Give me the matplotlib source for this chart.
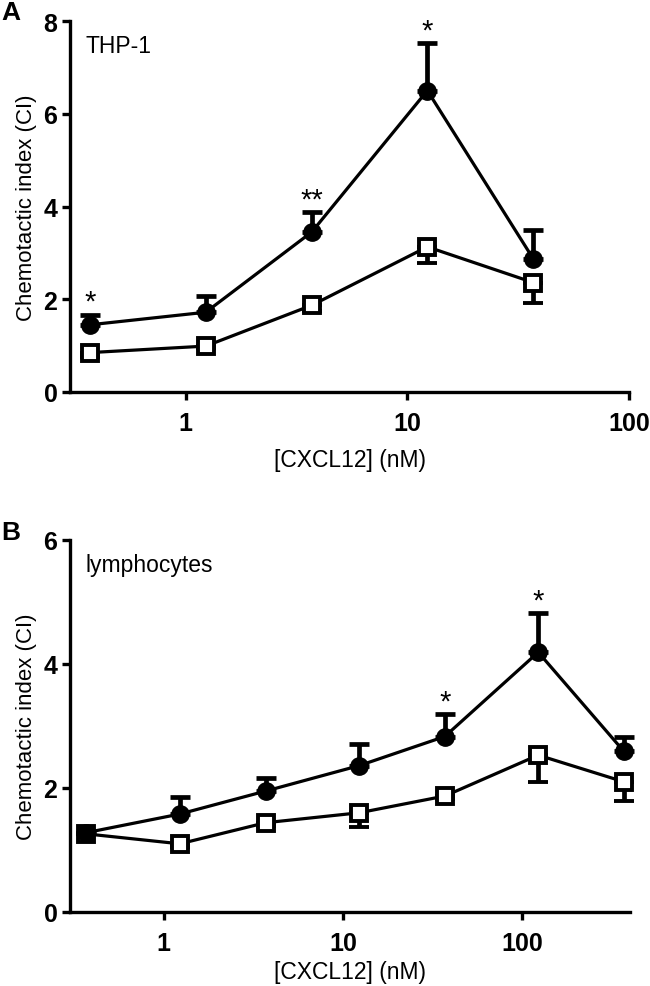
import matplotlib
matplotlib.use("Agg")
import matplotlib.pyplot as plt
import numpy as np

# ---------------- data ----------------
conc_a = [0.37, 1.23, 3.7, 12.3, 37]
thp_filled = [1.45, 1.72, 3.45, 6.50, 2.87]
thp_filled_err = [0.22, 0.35, 0.43, 1.03, 0.63]
thp_open = [0.85, 0.99, 1.87, 3.13, 2.36]
thp_open_err = [0.10, 0.05, 0.12, 0.35, 0.45]
thp_stars = ["*", "", "**", "*", ""]

conc_b = [0.37, 1.23, 3.7, 12.3, 37, 123, 370]
lym_filled = [1.28, 1.58, 1.95, 2.36, 2.83, 4.19, 2.59]
lym_filled_err = [0.0, 0.27, 0.21, 0.35, 0.36, 0.63, 0.24]
lym_open = [1.26, 1.10, 1.44, 1.60, 1.87, 2.53, 2.10]
lym_open_err = [0.0, 0.05, 0.05, 0.23, 0.05, 0.43, 0.31]
lym_stars = ["", "", "", "", "*", "*", ""]

xlabel = "[CXCL12] (nM)"
ylabel = "Chemotactic index (CI)"

# ---------------- style ----------------
REG = ["Liberation Sans", "DejaVu Sans"]
NARROW = ["Liberation Sans Narrow", "Liberation Sans", "DejaVu Sans"]
LW = 2.3

fig = plt.figure(figsize=(6.5, 9.87), dpi=100)
axA = fig.add_axes([70/650, 1-393/987, (629-70)/650, (393-22)/987])
axB = fig.add_axes([70/650, 1-913/987, (630-70)/650, (913-541)/987])


def draw(ax, x, yf, ef, yo, eo, stars, xlim, ylim, yticks, name, xpad):
    zeros_f = np.zeros(len(yf))
    zeros_o = np.zeros(len(yo))
    ax.errorbar(x, yo, yerr=[eo, zeros_o], color="black", lw=LW,
                marker="s", ms=11.5, mfc="white", mec="black", mew=2.8,
                capsize=7.5, capthick=3.4, elinewidth=3.4, zorder=3)
    ax.errorbar(x, yf, yerr=[zeros_f, ef], color="black", lw=LW,
                marker="o", ms=12.5, mfc="black", mec="black",
                capsize=7.5, capthick=3.4, elinewidth=3.4, zorder=4)
    for xi, yi, ei, s in zip(x, yf, ef, stars):
        if s:
            ax.annotate(s, (xi, yi + ei), xytext=(0, -1), textcoords="offset points",
                        ha="center", va="bottom", fontsize=21, family=REG)
    ax.set_xscale("log")
    ax.set_xlim(*xlim)
    ax.set_ylim(*ylim)
    ax.set_yticks(yticks)
    ax.xaxis.set_major_locator(matplotlib.ticker.FixedLocator([1, 10, 100]))
    ax.xaxis.set_minor_locator(matplotlib.ticker.NullLocator())
    ax.xaxis.set_major_formatter(matplotlib.ticker.FixedFormatter(["1", "10", "100"]))
    for sp in ["top", "right"]:
        ax.spines[sp].set_visible(False)
    for sp in ["left", "bottom"]:
        ax.spines[sp].set_linewidth(2.4)
    ax.tick_params(axis="both", which="major", direction="out", length=6,
                   width=2.4, labelsize=18, pad=3)
    ax.tick_params(axis="x", pad=8)
    for lab in ax.get_xticklabels() + ax.get_yticklabels():
        lab.set_fontweight("bold")
        lab.set_family(NARROW)
    ax.set_xlabel(xlabel, fontsize=16.5, family=REG, labelpad=xpad)
    ax.set_ylabel(ylabel, fontsize=16, family=REG, labelpad=5)
    ax.text(0.027, 0.965, name, transform=ax.transAxes, fontsize=16.5,
            family=REG, va="top", ha="left")
    for art in ax.get_children():
        try:
            art.set_clip_on(False)
        except Exception:
            pass


draw(axA, conc_a, thp_filled, thp_filled_err, thp_open, thp_open_err, thp_stars,
     (0.3, 100), (0, 8), [0, 2, 4, 6, 8], "THP-1", 9)
draw(axB, conc_b, lym_filled, lym_filled_err, lym_open, lym_open_err, lym_stars,
     (0.3, 400), (0, 6), [0, 2, 4, 6], "lymphocytes", 3)

fig.text(1/650, 1-1/987, "A", fontsize=19, fontweight="bold", family=REG, va="top", ha="left")
fig.text(1/650, 1-521/987, "B", fontsize=19, fontweight="bold", family=REG, va="top", ha="left")

fig.savefig("out.png", dpi=100)
